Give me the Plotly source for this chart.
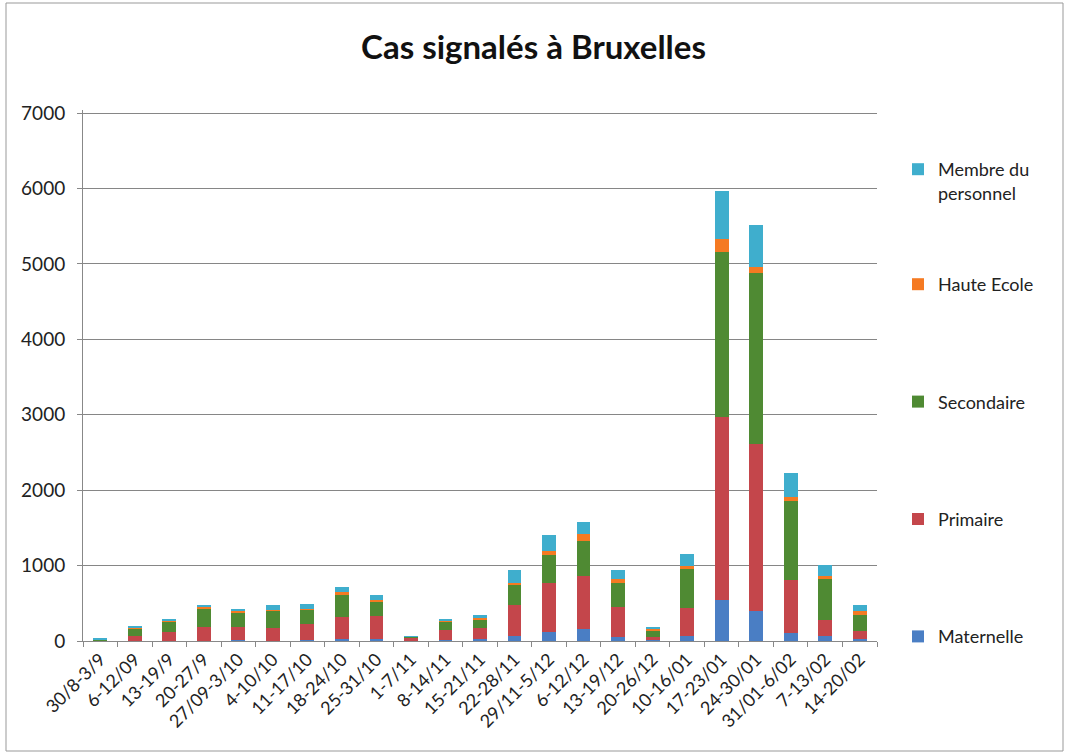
import plotly.graph_objects as go

categories = ["30/8-3/9", "6-12/09", "13-19/9", "20-27/9", "27/09-3/10", "4-10/10",
              "11-17/10", "18-24/10", "25-31/10", "1-7/11", "8-14/11", "15-21/11",
              "22-28/11", "29/11-5/12", "6-12/12", "13-19/12", "20-26/12", "10-16/01",
              "17-23/01", "24-30/01", "31/01-6/02", "7-13/02", "14-20/02"]

maternelle = [3, 5, 5, 5, 15, 5, 15, 20, 25, 5, 10, 25, 60, 125, 155, 55, 12, 70, 540, 400, 110, 60, 30]
primaire = [10, 60, 120, 180, 165, 170, 205, 300, 300, 45, 135, 145, 420, 640, 710, 390, 45, 370, 2430, 2210, 705, 225, 97]
secondaire = [10, 105, 140, 250, 200, 225, 200, 290, 190, 5, 115, 110, 265, 375, 460, 320, 80, 515, 2190, 2275, 1045, 535, 222]
haute_ecole = [2, 5, 5, 10, 15, 8, 8, 35, 30, 3, 5, 30, 30, 55, 90, 55, 18, 45, 165, 70, 45, 45, 44]
personnel = [5, 20, 25, 35, 35, 65, 65, 65, 70, 7, 27, 35, 165, 205, 160, 115, 27, 155, 645, 565, 325, 145, 90]

series = [
    ("Maternelle", maternelle, "#4A7EC4", "legend", 4),
    ("Primaire", primaire, "#C4464B", "legend", 3),
    ("Secondaire", secondaire, "#4F8A33", "legend", 2),
    ("Haute Ecole", haute_ecole, "#F57A22", "legend", 1),
    ("Membre du<br>personnel", personnel, "#3FAECD", "legend2", 1),
]

fig = go.Figure()
for name, vals, col, leg, rank in series:
    fig.add_trace(go.Bar(x=categories, y=vals, name=name, legendgroup=name,
                         legend=leg, legendrank=rank,
                         marker=dict(color=col, line=dict(width=0))))

W, H = 1067, 756
L, R, T, B = 83, 190, 110, 115
pw, ph = W - L - R, H - T - B


def py(y):
    return (H - B - y) / ph


def px(x):
    return (x - L) / pw


legfont = dict(family="Lato, Open Sans, sans-serif", size=18, color="#222")

fig.update_layout(
    width=W, height=H,
    barmode="stack", bargap=0.6,
    paper_bgcolor="white", plot_bgcolor="white",
    margin=dict(l=L, r=R, t=T, b=B, pad=0),
    font=dict(family="Lato, Open Sans, sans-serif", size=18, color="#222"),
    title=dict(text="<b>Cas signalés à Bruxelles</b>", x=0.5, xanchor="center",
               y=1 - 47 / H, yanchor="middle",
               font=dict(family="Lato, Open Sans, sans-serif", size=33, color="#111")),
    legend=dict(x=px(898), xanchor="left", y=py(266), yanchor="top",
                traceorder="grouped", tracegroupgap=91, valign="top",
                font=legfont, bgcolor="rgba(0,0,0,0)"),
    legend2=dict(x=px(898), xanchor="left", y=py(151), yanchor="top",
                 valign="top", font=legfont, bgcolor="rgba(0,0,0,0)"),
    xaxis=dict(type="category", tickangle=-45, ticks="outside", tickson="boundaries",
               ticklen=5, tickcolor="#888", showline=True, linecolor="#888", linewidth=1,
               showgrid=False, tickfont=dict(size=18, color="#222")),
    yaxis=dict(range=[0, 7040], tickvals=[0, 1000, 2000, 3000, 4000, 5000, 6000, 7000],
               ticks="outside", ticklen=5, tickcolor="#888",
               showline=True, linecolor="#888", linewidth=1, showgrid=True,
               gridcolor="#868686", gridwidth=1, zeroline=False, ticklabelstandoff=8,
               tickfont=dict(size=19, color="#222")),
    showlegend=True,
)

# Chart outer border
fig.add_shape(type="rect", xref="paper", yref="paper",
              x0=px(6), x1=px(1063), y0=py(751), y1=py(3),
              line=dict(color="#999", width=1), fillcolor="rgba(0,0,0,0)", layer="below")

fig.write_html("out.html", config={"displayModeBar": False},
               post_script="document.body.style.margin='0';document.body.style.overflow='hidden';")
